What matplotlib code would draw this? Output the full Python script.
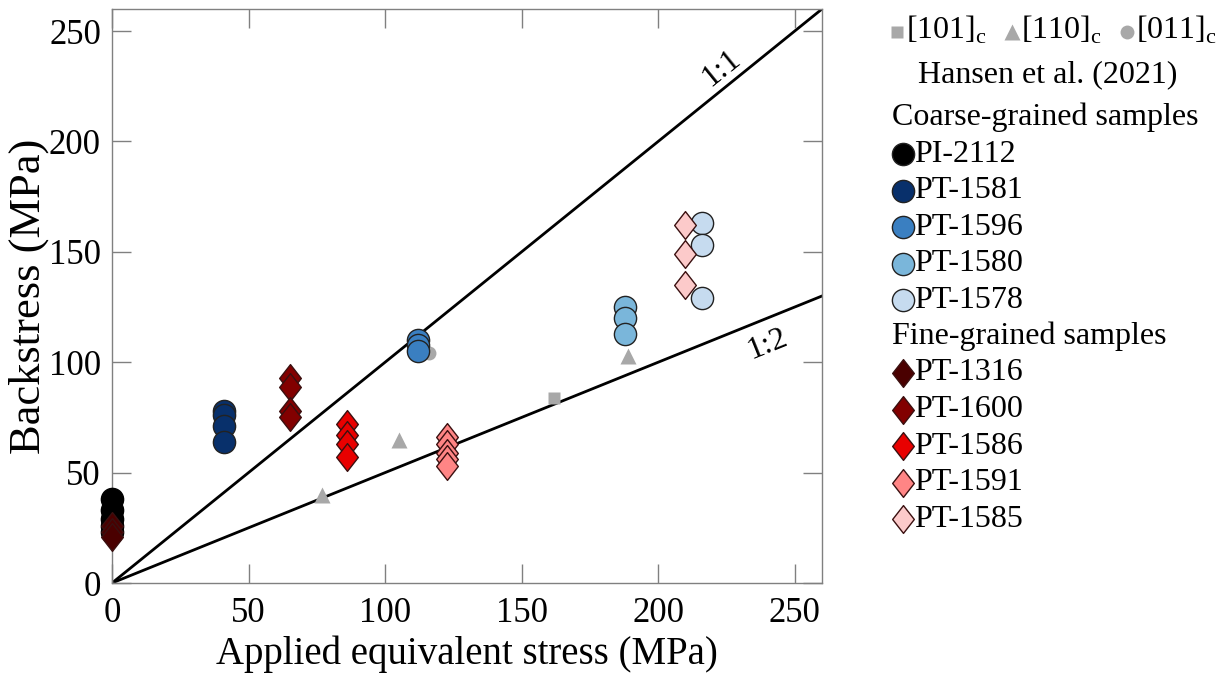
import matplotlib
matplotlib.use("Agg")
import matplotlib.pyplot as plt
from matplotlib.path import Path

plt.rcParams['font.family'] = ['Liberation Serif', 'DejaVu Serif']
plt.rcParams['mathtext.fontset'] = 'custom'
plt.rcParams['mathtext.rm'] = 'Liberation Serif'

# sample data: applied equivalent stress (x) vs backstress (y), MPa
coarse_names = ["PI-2112", "PT-1581", "PT-1596", "PT-1580", "PT-1578"]
coarse_colors = ["#000000", "#08306b", "#3a7fc1", "#7ab6da", "#c6dbef"]
coarse_x = [0, 41, 112, 188, 216]
coarse_y = [
    [38, 33, 29, 26, 23],
    [78, 76, 71, 64],
    [110, 108, 105],
    [125, 120, 113],
    [163, 153, 129],
]

fine_names = ["PT-1316", "PT-1600", "PT-1586", "PT-1591", "PT-1585"]
fine_colors = ["#4a0000", "#820000", "#e80000", "#ff8585", "#fccaca"]
fine_x = [0, 65, 86, 122.5, 210]
fine_y = [
    [26, 23, 21],
    [93, 89, 78, 75],
    [72, 67, 63, 57],
    [66, 63, 59, 56, 53],
    [162, 149, 135],
]

# Hansen et al. (2021)
hansen_labels = ["[101]$_\\mathrm{c}$", "[110]$_\\mathrm{c}$", "[011]$_\\mathrm{c}$"]
hansen_markers = ["s", "^", "o"]
hansen_x = [[162], [77, 105, 189], [116]]
hansen_y = [[84], [40, 65, 103], [104]]
hansen_color = "#a8a8a8"
hansen_ms = {"s": 8, "^": 11, "o": 10}

ratio_slopes = [1.0, 0.5]
ratio_labels = ["1:1", "1:2"]
ratio_label_xy = [(223, 233), (240, 108)]
ratio_angles = [39, 22]

ticks = [0, 50, 100, 150, 200, 250]

diamond = Path([(0, 1), (0.78, 0), (0, -1), (-0.78, 0), (0, 1)],
               [Path.MOVETO, Path.LINETO, Path.LINETO, Path.LINETO, Path.CLOSEPOLY])

fig = plt.figure(figsize=(12.31, 6.82), dpi=100)
ax = fig.add_axes([112 / 1231, 99 / 682, 710 / 1231, 574 / 682])

for s in ratio_slopes:
    ax.plot([0, 260], [0, 260 * s], color="black", lw=2, zorder=1)

for m, xs, ys in zip(hansen_markers, hansen_x, hansen_y):
    ax.plot(xs, ys, ls="none", marker=m, ms=hansen_ms[m], color=hansen_color,
            mec="none", zorder=2)

for x, ys, c in zip(coarse_x, coarse_y, coarse_colors):
    ax.plot([x] * len(ys), ys, ls="none", marker="o", ms=16, mfc=c,
            mec="#222222" if c != "#000000" else "black", mew=1, zorder=3,
            clip_on=False)

for x, ys, c in zip(fine_x, fine_y, fine_colors):
    ax.plot([x] * len(ys), ys, ls="none", marker=diamond, ms=20, mfc=c,
            mec="#3a1010", mew=1, zorder=4, clip_on=False)

for lab, (lx, ly), ang in zip(ratio_labels, ratio_label_xy, ratio_angles):
    ax.text(lx, ly, lab, rotation=ang, ha="center", va="center", fontsize=23)

ax.set_xlim(0, 260)
ax.set_ylim(0, 260)
ax.set_xticks(ticks)
ax.set_yticks(ticks)
ax.tick_params(direction="in", length=14, width=1, color="#808080",
               top=True, right=True, labelsize=25)
ax.tick_params(axis="x", pad=10)
ax.tick_params(axis="y", pad=8)
for sp in ax.spines.values():
    sp.set_color("#808080")
    sp.set_linewidth(1)

ax.set_xlabel("Applied equivalent stress (MPa)", fontsize=28, labelpad=4)
ax.set_ylabel("Backstress (MPa)", fontsize=32, labelpad=0)

# legend drawn by hand in pixel coordinates
lax = fig.add_axes([0, 0, 1, 1])
lax.set_xlim(0, 1231)
lax.set_ylim(682, 0)
lax.axis("off")

hx = [897, 1012, 1127]
for lab, m, x in zip(hansen_labels, hansen_markers, hx):
    lax.plot([x], [32], ls="none", marker=m, ms=hansen_ms[m], color=hansen_color, mec="none")
    lax.text(x + 9, 30, lab, fontsize=23, ha="left", va="center")
lax.text(918, 75, "Hansen et al. (2021)", fontsize=23, ha="left", va="center")

row = 36.6
lax.text(892, 117, "Coarse-grained samples", fontsize=23, ha="left", va="center")
for i, (n, c) in enumerate(zip(coarse_names, coarse_colors)):
    y = 154 + i * row
    lax.plot([903], [y], ls="none", marker="o", ms=16, mfc=c, mec="#222222", mew=1)
    lax.text(914, y, n, fontsize=23, ha="left", va="center")
lax.text(892, 336, "Fine-grained samples", fontsize=23, ha="left", va="center")
for i, (n, c) in enumerate(zip(fine_names, fine_colors)):
    y = 373 + i * row
    lax.plot([903], [y], ls="none", marker=diamond, ms=20, mfc=c, mec="#3a1010", mew=1)
    lax.text(914, y, n, fontsize=23, ha="left", va="center")

fig.savefig("out.png", dpi=100)
